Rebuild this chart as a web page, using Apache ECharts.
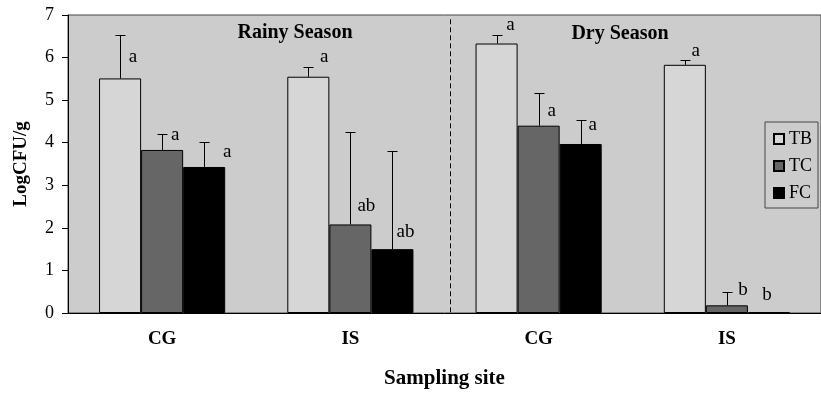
<!DOCTYPE html>
<html>
<head>
<meta charset="utf-8">
<script src="https://cdn.jsdelivr.net/npm/echarts@6/dist/echarts.min.js"></script>
<style>
  html, body { margin: 0; padding: 0; background: #fff; }
  #ec { width: 821px; height: 394px; }
</style>
</head>
<body>
<div id="ec"></div>
<script>
// sampling sites, rainy season first then dry season
var sites = ["CG", "IS", "CG", "IS"];
var seriesNames = ["TB", "TC", "FC"];

// mean LogCFU/g
var tbMean = [5.51, 5.55, 6.33, 5.83];
var tcMean = [3.83, 2.08, 4.40, 0.18];
var fcMean = [3.43, 1.50, 3.97, 0.02];

// top of the error bars
var tbUpper = [6.54, 5.79, 6.54, 5.95];
var tcUpper = [4.20, 4.24, 5.17, 0.50];
var fcUpper = [4.01, 3.80, 4.54, 0.02];

// significance letters and the height they sit at
var tbLetters = ["a", "a", "a", "a"];
var tcLetters = ["a", "ab", "a", "b"];
var fcLetters = ["a", "ab", "a", "b"];
var tbLetterY = [6.02, 6.02, 6.76, 6.16];
var tcLetterY = [4.17, 2.52, 4.74, 0.55];
var fcLetterY = [3.79, 1.91, 4.41, 0.43];

var yTicks = [0, 1, 2, 3, 4, 5, 6, 7];

// horizontal nudge of each letter from its bar centre (px)
var letterDx = [
  [13, 16, 14, 11],
  [13, 16, 13, 16],
  [23, 13, 12, -2]
];

var means = [tbMean, tcMean, fcMean];
var uppers = [tbUpper, tcUpper, fcUpper];
var letters = [tbLetters, tcLetters, fcLetters];
var letterY = [tbLetterY, tcLetterY, fcLetterY];
var colors = ["#d6d6d6", "#666666", "#000000"];

var font = "Liberation Serif";
var gapRatio = 0.33;

var errData = [];
var letterData = [];
for (var s = 0; s < 3; s++) {
  for (var i = 0; i < sites.length; i++) {
    errData.push([i, s, means[s][i], uppers[s][i]]);
    letterData.push([i, s, letterY[s][i], letters[s][i]]);
  }
}

function barCenter(api, cat, s) {
  var catW = api.size([1, 0])[0];
  var barW = catW * (1 - gapRatio) / 3;
  return api.coord([cat, 0])[0] + (s - 1) * barW;
}

var myChart = echarts.init(document.getElementById("ec"));
myChart.setOption({
  animation: false,
  grid: {
    left: 68,
    top: 15,
    width: 764,
    height: 302,
    show: true,
    backgroundColor: "#cccccc",
    borderColor: "#444",
    borderWidth: 1,
  },
  legend: {
    orient: "vertical",
    left: 765,
    top: 122,
    data: seriesNames,
    itemWidth: 10,
    itemHeight: 10,
    itemGap: 9,
    padding: [8, 6, 6, 8],
    backgroundColor: "#cccccc",
    borderColor: "#444",
    borderWidth: 1,
    borderRadius: 0,
    icon: "rect",
    textStyle: { fontFamily: font, fontSize: 18, color: "#000" },
  },
  xAxis: {
    type: "category",
    data: sites,
    name: "Sampling site",
    nameLocation: "middle",
    nameGap: 55,
    nameTextStyle: { fontFamily: font, fontSize: 21, fontWeight: "bold", color: "#000" },
    axisLine: { lineStyle: { color: "#000", width: 1 } },
    axisTick: { length: 6, lineStyle: { color: "#000" } },
    axisLabel: { margin: 17, fontFamily: font, fontSize: 19, fontWeight: "bold", color: "#000" },
  },
  yAxis: {
    type: "value",
    min: yTicks[0],
    max: yTicks[yTicks.length - 1],
    interval: 1,
    name: "LogCFU/g",
    nameLocation: "middle",
    nameGap: 37,
    nameTextStyle: { fontFamily: font, fontSize: 19, fontWeight: "bold", color: "#000" },
    axisLine: { show: true, lineStyle: { color: "#000", width: 1 } },
    axisTick: { show: true, length: 6, lineStyle: { color: "#000" } },
    axisLabel: { margin: 14, fontFamily: font, fontSize: 18, color: "#000" },
    splitLine: { show: false },
  },
  graphic: [
    {
      type: "text",
      x: 295,
      y: 33,
      style: { text: "Rainy Season", fontFamily: font, fontSize: 20, fontWeight: "bold", fill: "#000", align: "center", verticalAlign: "middle" },
    },
    {
      type: "text",
      x: 620,
      y: 34,
      style: { text: "Dry Season", fontFamily: font, fontSize: 20, fontWeight: "bold", fill: "#000", align: "center", verticalAlign: "middle" },
    },
  ],
  series: [
    {
      name: "TB",
      type: "bar",
      data: tbMean,
      barGap: "0%",
      barCategoryGap: gapRatio * 100 + "%",
      itemStyle: { color: colors[0], borderColor: "#000", borderWidth: 1 },
    },
    {
      name: "TC",
      type: "bar",
      data: tcMean,
      barGap: "0%",
      barCategoryGap: gapRatio * 100 + "%",
      itemStyle: { color: colors[1], borderColor: "#000", borderWidth: 1 },
    },
    {
      name: "FC",
      type: "bar",
      data: fcMean,
      barGap: "0%",
      barCategoryGap: gapRatio * 100 + "%",
      itemStyle: { color: colors[2], borderColor: "#000", borderWidth: 1 },
    },
    {
      // error bars (upper half only)
      type: "custom",
      data: errData,
      z: 5,
      renderItem: function (params, api) {
        var cat = api.value(0), s = api.value(1);
        if (api.value(3) <= api.value(2)) return null;
        var x = Math.round(barCenter(api, cat, s)) + 0.5;
        var y0 = api.coord([cat, api.value(2)])[1];
        var y1 = Math.round(api.coord([cat, api.value(3)])[1]) + 0.5;
        return {
          type: "group",
          children: [
            { type: "line", shape: { x1: x, y1: y0, x2: x, y2: y1 }, style: { stroke: "#000", lineWidth: 1 } },
            { type: "line", shape: { x1: x - 5, y1: y1, x2: x + 5, y2: y1 }, style: { stroke: "#000", lineWidth: 1 } },
          ],
        };
      },
    },
    {
      // significance letters
      type: "custom",
      data: letterData,
      z: 6,
      renderItem: function (params, api) {
        var cat = api.value(0), s = api.value(1);
        var x = barCenter(api, cat, s) + letterDx[s][cat];
        var y = api.coord([cat, api.value(2)])[1];
        return {
          type: "text",
          style: {
            x: x,
            y: y,
            text: letterData[params.dataIndex][3],
            fontFamily: font,
            fontSize: 19,
            fill: "#000",
            align: "center",
            verticalAlign: "middle",
          },
        };
      },
    },
    {
      // dashed divider between seasons
      type: "custom",
      data: [[1]],
      z: 4,
      renderItem: function (params, api) {
        var catW = api.size([1, 0])[0];
        var x = Math.round(api.coord([1, 0])[0] + catW / 2 + 5) + 0.5;
        return {
          type: "line",
          shape: { x1: x, y1: api.coord([1, 6.9])[1], x2: x, y2: api.coord([1, 0])[1] },
          style: { stroke: "#000", lineWidth: 1, lineDash: [5, 3] },
        };
      },
    },
  ],
});
</script>
</body>
</html>
